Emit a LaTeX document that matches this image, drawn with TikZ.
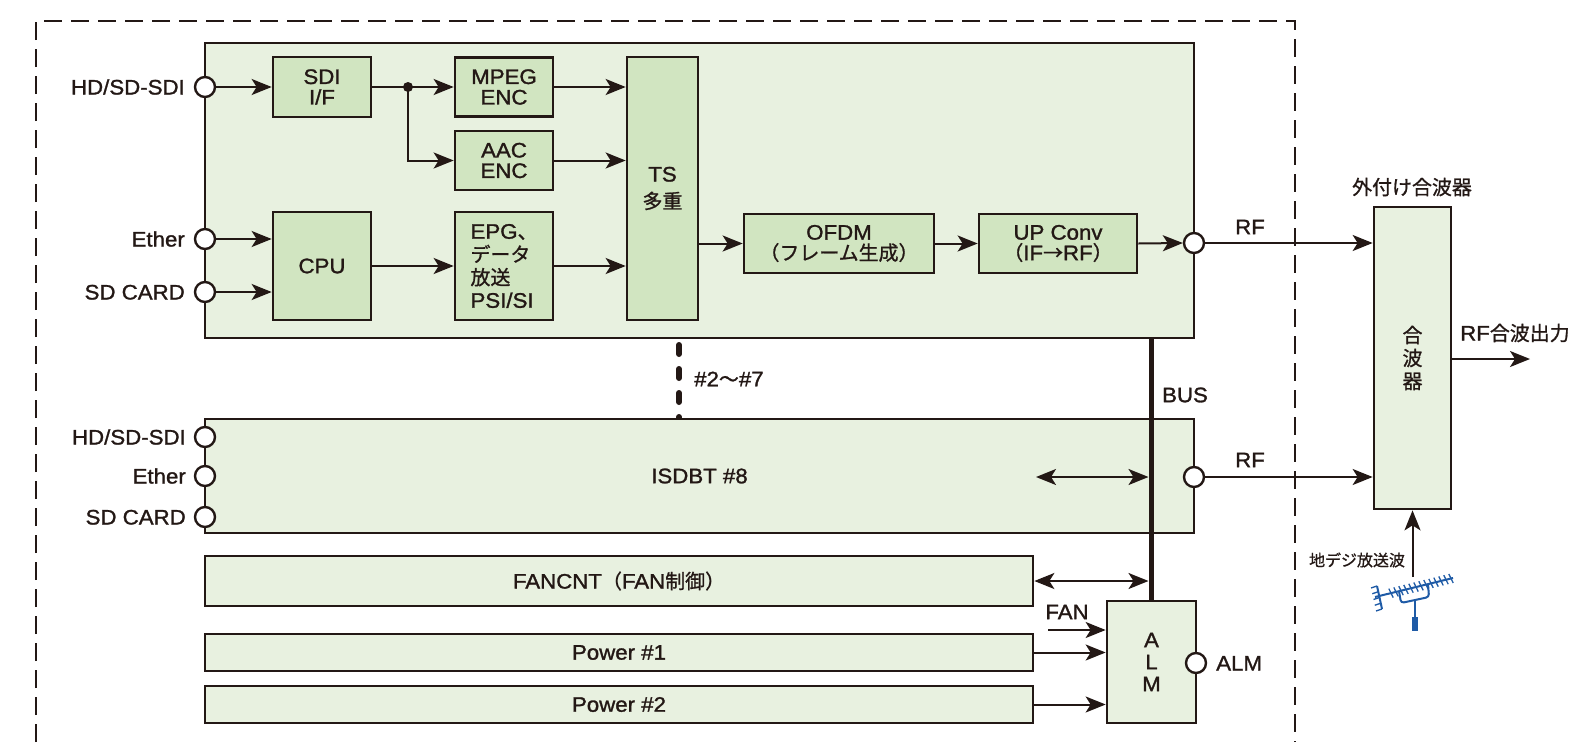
\documentclass[tikz,border=0pt]{standalone}
\usepackage{fontspec}
\setmainfont{Liberation Sans}[FakeStretch=1.06,FakeBold=1.3]
\newfontfamily\cjk{Noto Sans CJK JP}[Scale=0.95,FakeBold=1.0]
\usetikzlibrary{arrows.meta}
\definecolor{ink}{HTML}{231815}
\definecolor{boardfill}{HTML}{E8F1E0}
\definecolor{boxfill}{HTML}{D1E5C1}
\definecolor{antblue}{HTML}{1F5BA6}
\begin{document}
\begin{tikzpicture}[x=1pt,y=-1pt,
  every node/.style={text=ink, font=\fontsize{21}{20.5}\selectfont},
  board/.style={draw=ink, line width=2.7pt, fill=boardfill, rectangle, inner sep=0pt, align=center},
  blk/.style={board, fill=boxfill},
  port/.style={circle, draw=ink, fill=white, line width=2.4pt, minimum size=20pt, inner sep=0pt},
  conn/.style={draw=ink, line width=2pt},
  tipa/.tip={Stealth[length=20pt,width=16pt,inset=5pt]},
  arr/.style={conn, -tipa},
  darr/.style={conn, tipa-tipa},
  lbl/.style={inner sep=0pt},
  antline/.style={draw=antblue, line width=2pt}]
\useasboundingbox (0,0) rectangle (1587,742);
% outer dashed frame
\draw[ink, line width=2.6pt, dash pattern=on 18pt off 9pt] (36,742) -- (36,21) -- (1295,21) -- (1295,742);

% ---------- board #1 ----------
\node[board, minimum width=989pt, minimum height=295pt] (b1) at (699.5,190.5) {};
\node[blk, minimum width=98pt, minimum height=60pt] (sdi) at (322,87) {SDI\\I/F};
\node[blk, minimum width=98pt, minimum height=59pt] (mpeg) at (504,87) {MPEG\\ENC};
\node[blk, minimum width=98pt, minimum height=59pt] (aac) at (504,160.5) {AAC\\ENC};
\node[blk, minimum width=98pt, minimum height=108pt] (cpu) at (322,266) {CPU};
\node[blk, minimum width=98pt, minimum height=108pt, align=left, font=\fontsize{21}{23}\selectfont] (epg) at (504,266) {EPG{\cjk 、}\\{\cjk データ}\\{\cjk 放送}\\PSI/SI};
\node[blk, minimum width=71pt, minimum height=263pt, font=\fontsize{21}{27}\selectfont] (ts) at (662.5,188.5) {TS\\{\cjk 多重}};
\node[blk, minimum width=190pt, minimum height=59pt] (ofdm) at (839,243.5) {OFDM\\{\cjk （フレーム生成）}};
\node[blk, minimum width=158pt, minimum height=59pt] (upc) at (1058,243.5) {UP Conv\\{\cjk （}IF{\cjk →}RF{\cjk ）}};
\node[circle, fill=ink, inner sep=0pt, minimum size=10pt] (dot) at (408,87) {};

% external combiner
\node[board, minimum width=77pt, minimum height=302pt, font=\fontsize{21}{23}\selectfont] (comb) at (1412.5,358) {{\cjk 合}\\{\cjk 波}\\{\cjk 器}};
\node[lbl] (combt) at (1412,187) {\cjk 外付け合波器};
\node[lbl, anchor=west] (outl) at (1460,333) {RF{\cjk 合波出力}};
\coordinate (out) at (1530,359);
\draw[arr] (comb.east |- out) -- (out);

% ports board 1
\node[port] (p1) at (205,87) {};
\node[port] (p2) at (205,239) {};
\node[port] (p3) at (205,292) {};
\node[port] (rf1) at (1194,243) {};
\node[lbl, anchor=base east] (l1) at (185,94.5) {HD/SD-SDI};
\node[lbl, anchor=base east] (l2) at (185,246.5) {Ether};
\node[lbl, anchor=base east] (l3) at (185,299.5) {SD CARD};
\node[lbl] (rfl1) at (1250,227) {RF};

% connectors board 1
\draw[arr] (p1.east) -- (sdi.west);
\draw[arr] (p2.east) -- (p2.east -| cpu.west);
\draw[arr] (p3.east) -- (p3.east -| cpu.west);
\draw[conn] (sdi.east) -- (dot.center);
\draw[arr] (dot.center) -- (mpeg.west);
\draw[arr] (dot.center) |- (aac.west);
\draw[arr] (cpu.east) -- (epg.west);
\draw[arr] (mpeg.east) -- (mpeg.east -| ts.west);
\draw[arr] (aac.east) -- (aac.east -| ts.west);
\draw[arr] (epg.east) -- (epg.east -| ts.west);
\draw[arr] (ofdm.west -| ts.east) -- (ofdm.west);
\draw[arr] (ofdm.east) -- (upc.west);
\draw[arr] (upc.east) -- (rf1.west);
\draw[arr] (rf1.east) -- (rf1.east -| comb.west);

% #2~#7 dotted link
\coordinate (dtop) at (679,345);
\coordinate (dbot) at (679,419);
\draw[ink, line width=6pt, line cap=round, dash pattern=on 9pt off 15pt] (dtop) -- (dbot);
\node[lbl, anchor=west] (nl) at (694,379) {\#2{\cjk 〜}\#7};

% ---------- ISDBT #8 ----------
\node[board, minimum width=989pt, minimum height=114pt] (b8) at (699.5,476) {ISDBT \#8};
\node[port] (q1) at (205,437) {};
\node[port] (q2) at (205,476) {};
\node[port] (q3) at (205,517) {};
\node[port] (rf2) at (1194,477) {};
\node[lbl, anchor=base east] (m1) at (186,444.5) {HD/SD-SDI};
\node[lbl, anchor=base east] (m2) at (186,483.5) {Ether};
\node[lbl, anchor=base east] (m3) at (186,524.5) {SD CARD};
\node[lbl] (rfl2) at (1250,460) {RF};
\draw[arr] (rf2.east) -- (rf2.east -| comb.west);

% ---------- lower panels ----------
\node[board, minimum width=828pt, minimum height=50pt] (fan) at (619,581) {FANCNT{\cjk （}FAN{\cjk 制御）}};
\node[board, minimum width=828pt, minimum height=37pt] (pw1) at (619,652.5) {Power \#1};
\node[board, minimum width=828pt, minimum height=37pt] (pw2) at (619,704.5) {Power \#2};
\node[board, minimum width=89pt, minimum height=122pt, font=\fontsize{21}{22}\selectfont] (alm) at (1151.5,662) {A\\L\\M};
\node[port] (almp) at (1196,663) {};
\node[lbl, anchor=base west] (almpl) at (1216,670.5) {ALM};
\node[lbl] (fanl) at (1067,612) {FAN};
\coordinate (fanin) at (1048,630);
\draw[arr] (fanin) -- (fanin -| alm.west);
\draw[arr] (pw1.east) -- (pw1.east -| alm.west);
\draw[arr] (pw2.east) -- (pw2.east -| alm.west);

% BUS
\draw[ink, line width=5pt] (alm.north |- b1.south) -- (alm.north);
\node[lbl] (busl) at (1185,395) {BUS};
\coordinate (ia) at (1036,477);
\coordinate (ib) at (1148.5,477);
\draw[darr] (ia) -- (ib);
\coordinate (fb) at (1148.5,581);
\draw[darr] (fan.east) -- (fb);

% ---------- antenna ----------
\coordinate (antTop) at (1412.5,577);
\draw[arr] (antTop) -- (comb.south);
\node[lbl, font=\fontsize{16.8}{18}\selectfont] (antl) at (1357,560) {\cjk 地デジ放送波};
\draw[antline] (1375,597) -- (1453,578);
\foreach \i in {0,...,12} {
  \pgfmathsetmacro\xx{1391+5*\i}
  \pgfmathsetmacro\yy{597-19*(\xx-1375)/78}
  \draw[antline, line width=1.3pt] (\xx-2.2,\yy-4.5) -- (\xx+2.2,\yy+4.5);
}
\draw[antline] (1377,586) -- (1382,609);
\foreach \k in {0,...,4} {
  \pgfmathsetmacro\rx{1377+1.25*\k}
  \pgfmathsetmacro\ry{586+5.75*\k}
  \draw[antline, line width=1.3pt] (\rx,\ry) -- (\rx-6,\ry+2);
}
\draw[antline, rounded corners=3pt] (1399,591) -- (1401,603) -- (1429,597) -- (1428,584);
\draw[antline] (1415,600) -- (1415,618);
\fill[antblue] (1412,617) rectangle (1418,631);
\end{tikzpicture}
\end{document}
